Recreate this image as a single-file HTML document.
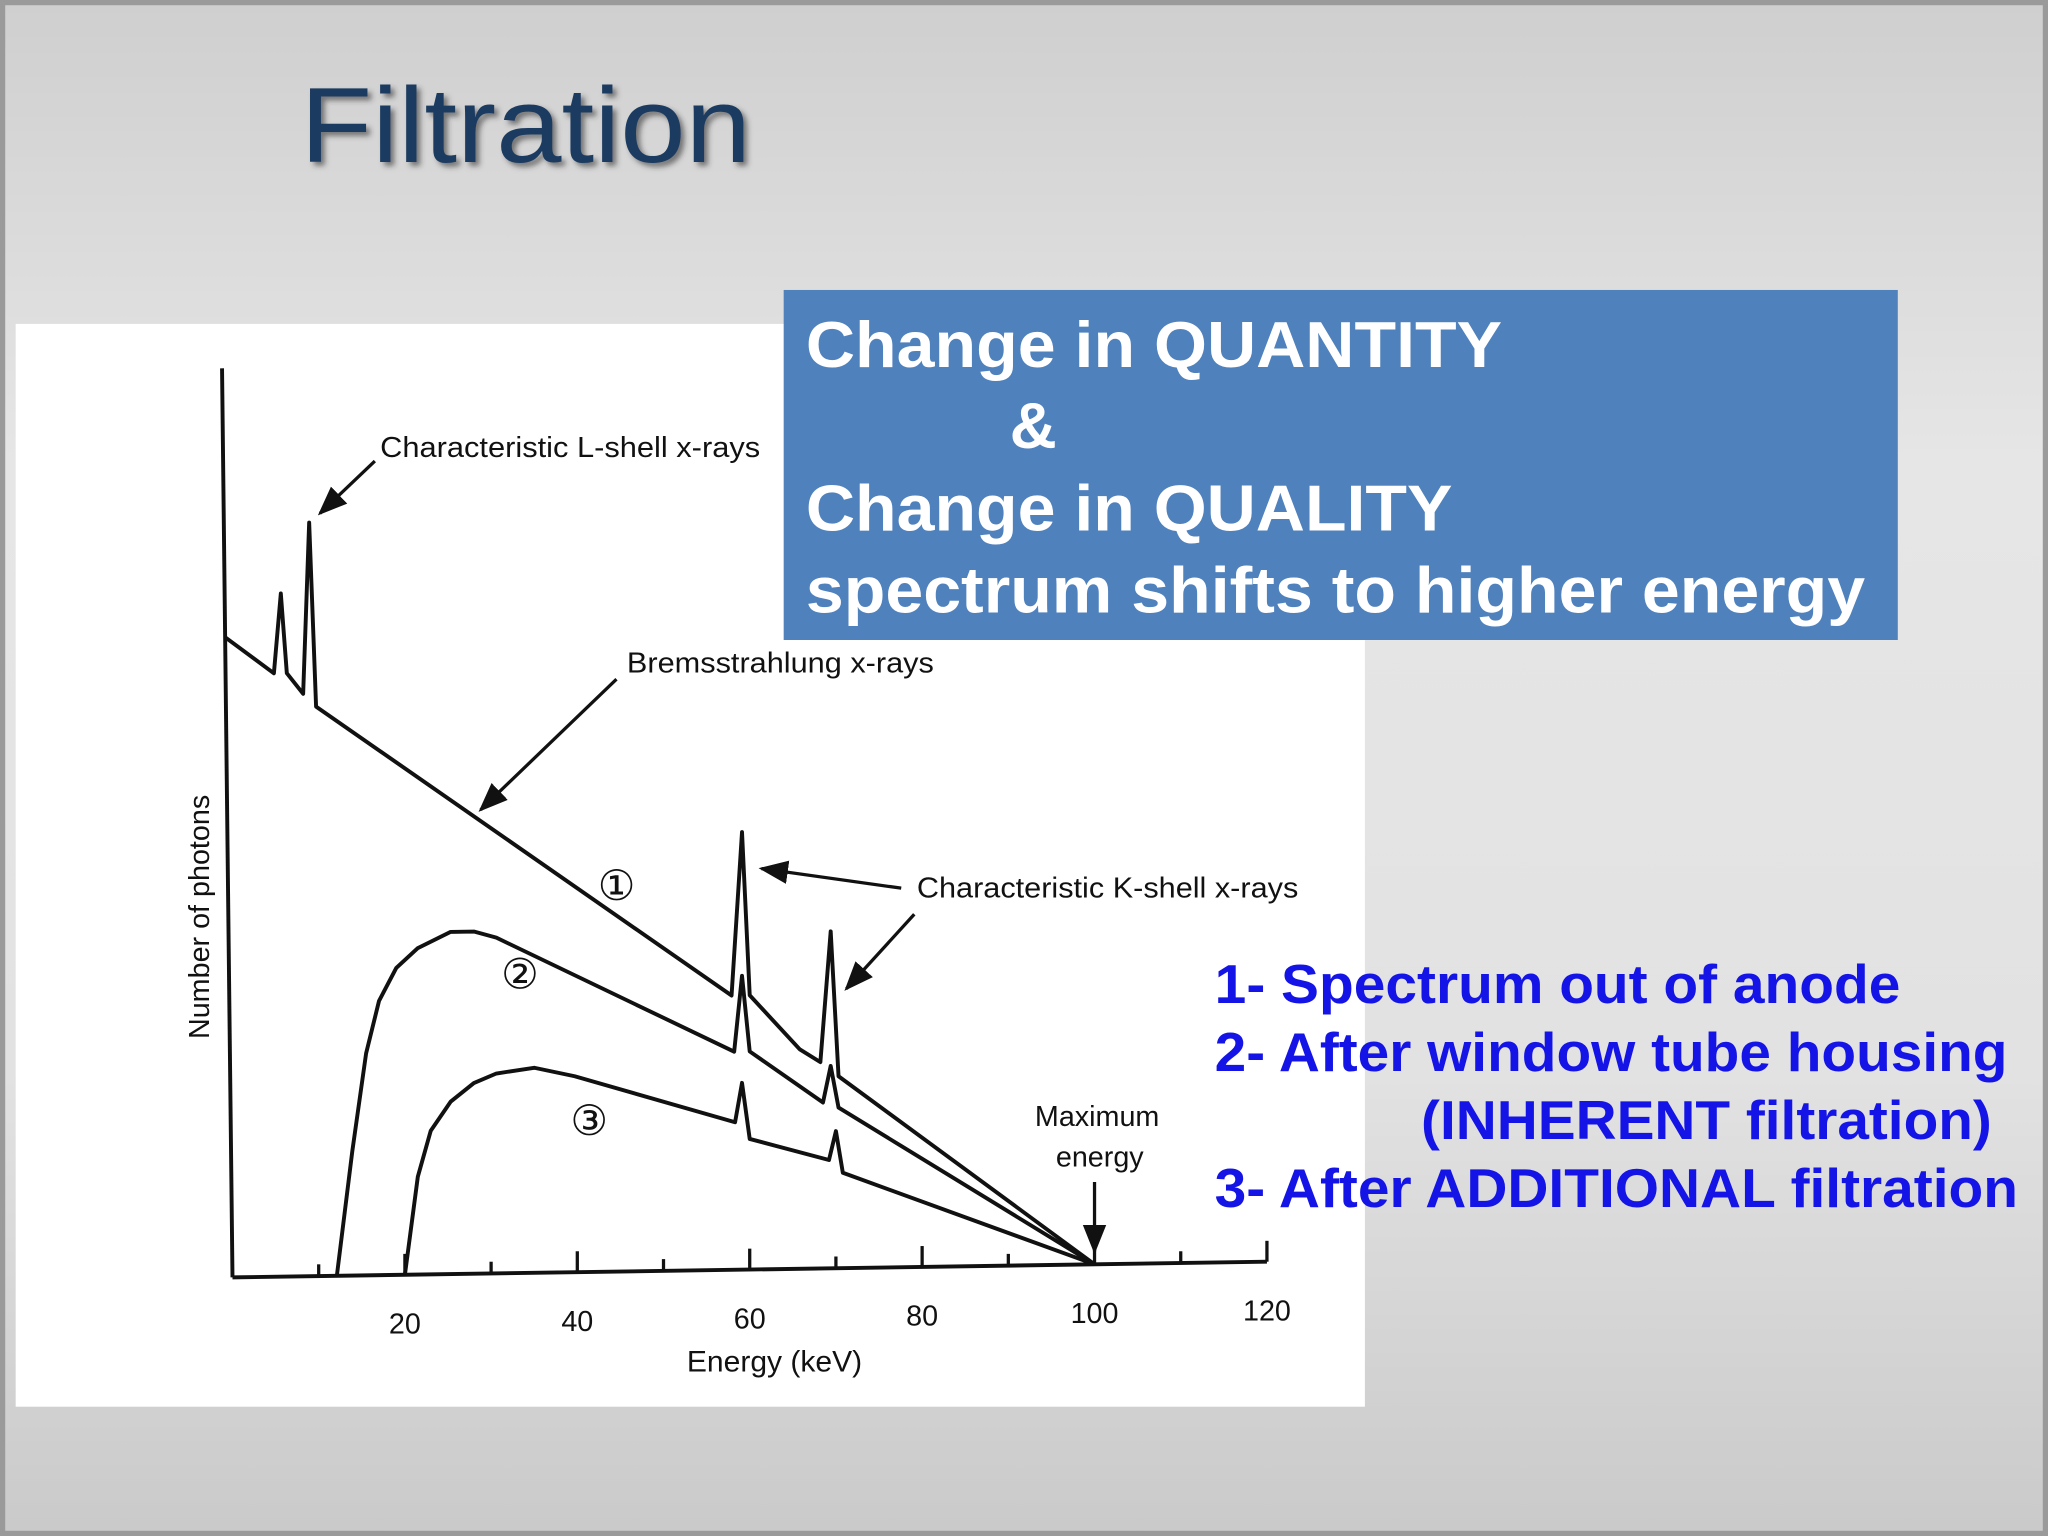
<!DOCTYPE html>
<html><head><meta charset="utf-8">
<style>
html,body{margin:0;padding:0;width:2048px;height:1536px;overflow:hidden;background:#d4d4d4}
svg{display:block}
text{font-family:"Liberation Sans",sans-serif}
</style></head>
<body>
<svg width="2048" height="1536" viewBox="0 0 1568 1176">
<defs>
<linearGradient id="bg" x1="0" y1="0" x2="0" y2="1">
<stop offset="0" stop-color="#cfcfcf"/><stop offset="0.3" stop-color="#e6e6e6"/><stop offset="0.7" stop-color="#e2e2e2"/><stop offset="1" stop-color="#cacaca"/>
</linearGradient>
<filter id="sh"><feDropShadow dx="3" dy="3" stdDeviation="2" flood-color="#333" flood-opacity="0.6"/></filter>
<marker id="ar" viewBox="0 0 10 10" refX="9" refY="5" markerWidth="9" markerHeight="9" orient="auto"><path d="M0,1 L10,5 L0,9 Z" fill="#111"/></marker>
</defs>
<rect x="0" y="0" width="1568" height="1176" fill="#9a9a9a"/>
<rect x="4" y="4" width="1560" height="1168" fill="url(#bg)"/>
<text x="230" y="124" font-family="Liberation Sans" font-size="82" fill="#1f3b60" filter="url(#sh)" textLength="345" lengthAdjust="spacingAndGlyphs">Filtration</text>

<rect x="12" y="248" width="1033" height="829" fill="#ffffff"/>
<g id="chart"></g>

<rect x="600" y="222" width="853" height="268" fill="#4f81bd"/>
<g font-weight="bold" font-size="50" fill="#ffffff">
<text x="617" y="281" textLength="533" lengthAdjust="spacingAndGlyphs">Change in QUANTITY</text>
<text x="773" y="343">&amp;</text>
<text x="617" y="406" textLength="495" lengthAdjust="spacingAndGlyphs">Change in QUALITY</text>
<text x="617" y="469" textLength="811" lengthAdjust="spacingAndGlyphs">spectrum shifts to higher energy</text>
</g>
<g font-weight="bold" font-size="42" fill="#1414e6">
<text x="930" y="768" textLength="525" lengthAdjust="spacingAndGlyphs">1- Spectrum out of anode</text>
<text x="930" y="820" textLength="607" lengthAdjust="spacingAndGlyphs">2- After window tube housing</text>
<text x="1088" y="872" textLength="437" lengthAdjust="spacingAndGlyphs">(INHERENT filtration)</text>
<text x="930" y="924" textLength="615" lengthAdjust="spacingAndGlyphs">3- After ADDITIONAL filtration</text>
</g>
</svg>
<script>
const xTicks=[20,40,60,80,100,120];
const curve1E=[-0.8,4.8,5.6,6.3,8.2,8.9,9.7,57.9,59.1,60,65.8,68.2,69.4,70.3,100];
const curve1V=[490,462,523,462,446,577,436,210,335,210,168,158,258,147,0];
const curve2E=[12.1,13.9,15.5,17,19,21.5,25.3,28,30.6,58.2,59.1,60,68.5,69.4,70.3,100];
const curve2V=[0,95,170,210,235,250,262,262,257,167,225,167,127,155,123,0];
const curve3E=[20,21.5,23,25.3,28,30.6,35,39.7,58.3,59.1,60,69.2,70,70.8,100];
const curve3V=[0,75,110,132,146,153,157,150,113,143,100,83,105,73,0];
const NS='http://www.w3.org/2000/svg';
const g=document.getElementById('chart');
function xs(e){return 178+e*6.6;}
function ay(e){return 978-0.1*e;}
function ys(e,v){return ay(e)-v;}
function mk(tag,attrs){const el=document.createElementNS(NS,tag);for(const k in attrs)el.setAttribute(k,attrs[k]);g.appendChild(el);return el;}
let yAxis=mk('line',{x1:170,y1:282,x2:178,y2:978,stroke:'#111','stroke-width':3});


let xAxis=mk('line',{x1:xs(0),y1:ay(0),x2:xs(120),y2:ay(120),stroke:'#111','stroke-width':3});


for(let e=10;e<=120;e+=10){
  const big=e%20===0;
  const t=mk('line',{x1:xs(e),y1:ay(e),x2:xs(e),y2:ay(e)-(big?16:9),stroke:'#111','stroke-width':2.5});
  
  
}
xTicks.forEach(e=>{
  const t=mk('text',{x:xs(e),y:ay(e)+45,'font-size':22,'text-anchor':'middle',fill:'#111'});
  t.textContent=e;
  
  
});
function curve(E,V,name){
  const d=E.map((e,i)=>(i?'L':'M')+xs(e).toFixed(1)+','+ys(e,V[i]).toFixed(1)).join(' ');
  const p=mk('path',{d:d,fill:'none',stroke:'#111','stroke-width':3,'stroke-linejoin':'round'});
  
  
}
curve(curve1E,curve1V,'spectrum-curve-1');
curve(curve2E,curve2V,'spectrum-curve-2');
curve(curve3E,curve3V,'spectrum-curve-3');
function txt(x,y,s,size,name,extra){
  const t=mk('text',Object.assign({x:x,y:y,'font-size':size,fill:'#111'},extra||{}));
  t.textContent=s;
  
  
  return t;
}
function arrow(x1,y1,x2,y2,name){
  const a=mk('line',{x1:x1,y1:y1,x2:x2,y2:y2,stroke:'#111','stroke-width':2.5,'marker-end':'url(#ar)'});
  
  
}
txt(291,350,'Characteristic L-shell x-rays',22,'l-shell-label',{textLength:291,lengthAdjust:'spacingAndGlyphs'});
arrow(287,353,245,393,'l-shell-arrow');
txt(480,515,'Bremsstrahlung x-rays',22,'bremsstrahlung-label',{textLength:235,lengthAdjust:'spacingAndGlyphs'});
arrow(472,520,368,620,'bremsstrahlung-arrow');
txt(702,687,'Characteristic K-shell x-rays',22,'k-shell-label',{textLength:292,lengthAdjust:'spacingAndGlyphs'});
arrow(690,680,583,665,'k-shell-arrow-1');
arrow(700,700,648,757,'k-shell-arrow-2');
txt(472,689,'①',32,'curve-1-marker',{'text-anchor':'middle'});
txt(398,757,'②',32,'curve-2-marker',{'text-anchor':'middle'});
txt(451,869,'③',32,'curve-3-marker',{'text-anchor':'middle'});
txt(840,862,'Maximum',22,'max-energy-label-1',{'text-anchor':'middle'});
txt(842,893,'energy',22,'max-energy-label-2',{'text-anchor':'middle'});
arrow(838,905,838,958,'max-energy-arrow');
txt(593,1050,'Energy (keV)',23,'x-axis-title',{'text-anchor':'middle'});
txt(160,702,'Number of photons',22,'y-axis-title',{'text-anchor':'middle',transform:'rotate(-90 160 702)'});
</script>
</body></html>
